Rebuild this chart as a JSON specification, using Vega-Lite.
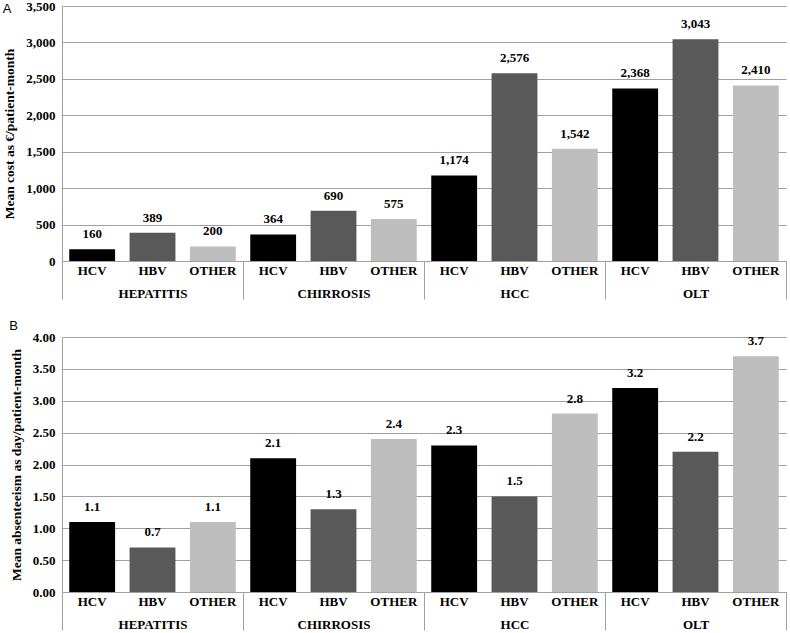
{
  "$schema": "https://vega.github.io/schema/vega-lite/v6.json",
  "padding": {"left": 2, "top": 0, "right": 5, "bottom": 0},
  "background": "white",
  "spacing": 20,
  "datasets": {
    "cost": [
      {"group": "HEPATITIS", "sub": "HCV", "value": 160},
      {"group": "HEPATITIS", "sub": "HBV", "value": 389},
      {"group": "HEPATITIS", "sub": "OTHER", "value": 200},
      {"group": "CHIRROSIS", "sub": "HCV", "value": 364},
      {"group": "CHIRROSIS", "sub": "HBV", "value": 690},
      {"group": "CHIRROSIS", "sub": "OTHER", "value": 575},
      {"group": "HCC", "sub": "HCV", "value": 1174},
      {"group": "HCC", "sub": "HBV", "value": 2576},
      {"group": "HCC", "sub": "OTHER", "value": 1542},
      {"group": "OLT", "sub": "HCV", "value": 2368},
      {"group": "OLT", "sub": "HBV", "value": 3043},
      {"group": "OLT", "sub": "OTHER", "value": 2410}
    ],
    "abs": [
      {"group": "HEPATITIS", "sub": "HCV", "value": 1.1},
      {"group": "HEPATITIS", "sub": "HBV", "value": 0.7},
      {"group": "HEPATITIS", "sub": "OTHER", "value": 1.1},
      {"group": "CHIRROSIS", "sub": "HCV", "value": 2.1},
      {"group": "CHIRROSIS", "sub": "HBV", "value": 1.3},
      {"group": "CHIRROSIS", "sub": "OTHER", "value": 2.4},
      {"group": "HCC", "sub": "HCV", "value": 2.3},
      {"group": "HCC", "sub": "HBV", "value": 1.5},
      {"group": "HCC", "sub": "OTHER", "value": 2.8},
      {"group": "OLT", "sub": "HCV", "value": 3.2},
      {"group": "OLT", "sub": "HBV", "value": 2.2},
      {"group": "OLT", "sub": "OTHER", "value": 3.7}
    ]
  },
  "config": {
    "view": {"stroke": null},
    "font": "Liberation Serif",
    "axis": {
      "labelFont": "Liberation Serif",
      "labelFontWeight": "bold",
      "labelFontSize": 13,
      "labelColor": "#000000",
      "titleFont": "Liberation Serif",
      "titleFontWeight": "bold",
      "titleFontSize": 13.5,
      "titleColor": "#000000",
      "domainColor": "#a0a0a0",
      "tickColor": "#a0a0a0",
      "gridColor": "#a0a0a0"
    },
    "title": {"font": "Liberation Sans", "fontSize": 13, "fontWeight": "normal", "color": "#000000", "anchor": "start", "frame": "bounds"}
  },
  "vconcat": [
    {
      "width": 724,
      "height": 255,
      "title": {"text": "A", "offset": -16},
      "data": {"name": "cost"},
      "encoding": {
        "x": {
          "field": "group", "type": "nominal",
          "sort": ["HEPATITIS", "CHIRROSIS", "HCC", "OLT"],
          "scale": {"paddingInner": 0, "paddingOuter": 0},
          "axis": {"title": null, "labelAngle": 0, "tickBand": "extent", "tickSize": 38, "labelPadding": -12, "grid": false}
        },
        "xOffset": {
          "field": "sub", "type": "nominal", "sort": ["HCV", "HBV", "OTHER"],
          "scale": {"paddingInner": 0.24, "paddingOuter": 0.12}
        }
      },
      "layer": [
        {
          "mark": {"type": "bar"},
          "encoding": {
            "y": {
              "field": "value", "type": "quantitative",
              "scale": {"domain": [0, 3500], "nice": false, "zero": true},
              "axis": {"title": "Mean cost as €/patient-month", "values": [0, 500, 1000, 1500, 2000, 2500, 3000, 3500], "format": ",d", "labelOverlap": false, "ticks": false, "labelPadding": 7, "titlePadding": 9, "grid": true}
            },
            "color": {"field": "sub", "type": "nominal", "scale": {"domain": ["HCV", "HBV", "OTHER"], "range": ["#000000", "#595959", "#bebebe"]}, "legend": null}
          }
        },
        {
          "mark": {"type": "text", "font": "Liberation Serif", "fontWeight": "bold", "fontSize": 13, "baseline": "alphabetic", "dy": -11, "color": "#000000"},
          "encoding": {
            "y": {
              "field": "value", "type": "quantitative",
              "axis": {"title": "Mean cost as €/patient-month", "values": [0, 500, 1000, 1500, 2000, 2500, 3000, 3500], "format": ",d", "labelOverlap": false, "ticks": false, "labelPadding": 7, "titlePadding": 9, "grid": true}
            },
            "text": {"field": "value", "type": "quantitative", "format": ","}
          }
        },
        {
          "mark": {"type": "text", "font": "Liberation Serif", "fontWeight": "bold", "fontSize": 13, "baseline": "top", "dy": 4, "color": "#000000"},
          "encoding": {
            "y": {
              "datum": 0, "type": "quantitative",
              "axis": {"title": "Mean cost as €/patient-month", "values": [0, 500, 1000, 1500, 2000, 2500, 3000, 3500], "format": ",d", "labelOverlap": false, "ticks": false, "labelPadding": 7, "titlePadding": 9, "grid": true}
            },
            "text": {"field": "sub", "type": "nominal"}
          }
        }
      ]
    },
    {
      "width": 724,
      "height": 255,
      "title": {"text": "B", "offset": -2},
      "data": {"name": "abs"},
      "encoding": {
        "x": {
          "field": "group", "type": "nominal",
          "sort": ["HEPATITIS", "CHIRROSIS", "HCC", "OLT"],
          "scale": {"paddingInner": 0, "paddingOuter": 0},
          "axis": {"title": null, "labelAngle": 0, "tickBand": "extent", "tickSize": 38, "labelPadding": -12, "grid": false}
        },
        "xOffset": {
          "field": "sub", "type": "nominal", "sort": ["HCV", "HBV", "OTHER"],
          "scale": {"paddingInner": 0.24, "paddingOuter": 0.12}
        }
      },
      "layer": [
        {
          "mark": {"type": "bar"},
          "encoding": {
            "y": {
              "field": "value", "type": "quantitative",
              "scale": {"domain": [0, 4], "nice": false, "zero": true},
              "axis": {"title": "Mean absenteeism as day/patient-month", "values": [0, 0.5, 1, 1.5, 2, 2.5, 3, 3.5, 4], "format": ".2f", "labelOverlap": false, "ticks": false, "labelPadding": 7, "titlePadding": 9, "grid": true}
            },
            "color": {"field": "sub", "type": "nominal", "scale": {"domain": ["HCV", "HBV", "OTHER"], "range": ["#000000", "#595959", "#bebebe"]}, "legend": null}
          }
        },
        {
          "mark": {"type": "text", "font": "Liberation Serif", "fontWeight": "bold", "fontSize": 13, "baseline": "alphabetic", "dy": -11, "color": "#000000"},
          "encoding": {
            "y": {
              "field": "value", "type": "quantitative",
              "axis": {"title": "Mean absenteeism as day/patient-month", "values": [0, 0.5, 1, 1.5, 2, 2.5, 3, 3.5, 4], "format": ".2f", "labelOverlap": false, "ticks": false, "labelPadding": 7, "titlePadding": 9, "grid": true}
            },
            "text": {"field": "value", "type": "quantitative", "format": ".1f"}
          }
        },
        {
          "mark": {"type": "text", "font": "Liberation Serif", "fontWeight": "bold", "fontSize": 13, "baseline": "top", "dy": 4, "color": "#000000"},
          "encoding": {
            "y": {
              "datum": 0, "type": "quantitative",
              "axis": {"title": "Mean absenteeism as day/patient-month", "values": [0, 0.5, 1, 1.5, 2, 2.5, 3, 3.5, 4], "format": ".2f", "labelOverlap": false, "ticks": false, "labelPadding": 7, "titlePadding": 9, "grid": true}
            },
            "text": {"field": "sub", "type": "nominal"}
          }
        }
      ]
    }
  ]
}
